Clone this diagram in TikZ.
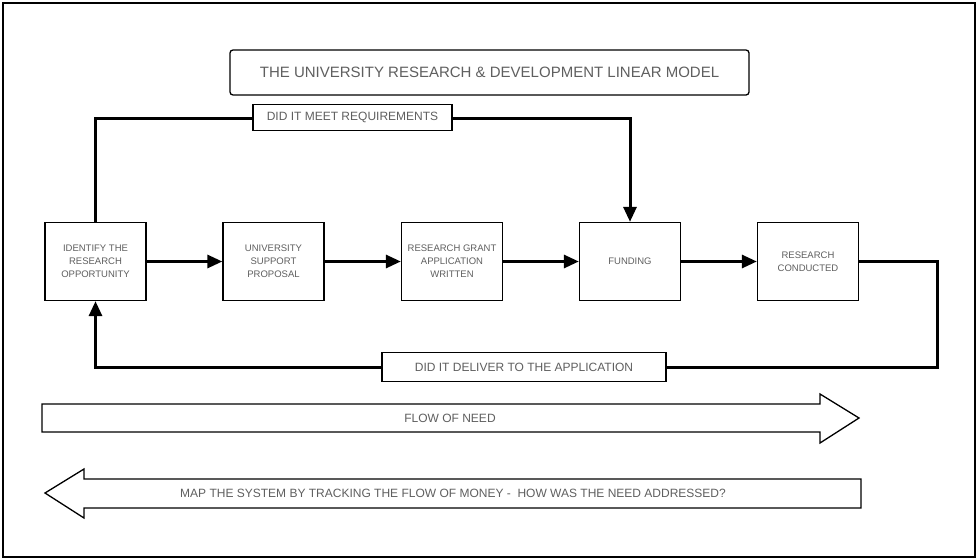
\documentclass[tikz,border=0pt]{standalone}
\usepackage{fontspec}
\setmainfont{Liberation Sans}
\usetikzlibrary{arrows.meta}
\definecolor{txtgray}{RGB}{95,95,95}
\tikzset{
  procbox/.style={draw=black, line width=1.3pt, fill=white, minimum width=101pt, minimum height=78pt, align=center, text=txtgray, font=\fontsize{9.5}{13}\selectfont, inner sep=0pt},
  labbox/.style={draw=black, line width=1.3pt, fill=white, text=txtgray, font=\fontsize{12}{14}\selectfont, inner sep=0pt},
  conn/.style={line width=3pt, line join=miter},
  arr/.style={conn, -{Triangle[length=15pt,width=13pt]}},
  bigarrow/.style={draw=black, line width=1.3pt, fill=white, line join=miter}
}
\begin{document}
\begin{tikzpicture}[x=1pt,y=-1pt]
\useasboundingbox (0,0) rectangle (978,560);
\draw[line width=1.5pt] (3,3) rectangle (975,557);
% title
\node[labbox, rounded corners=3pt, minimum width=519pt, minimum height=45pt, font=\fontsize{15}{17}\selectfont] (title) at (489.5,72.5) {THE UNIVERSITY RESEARCH \& DEVELOPMENT LINEAR MODEL};
% process boxes
\node[procbox] (b1) at (95.5,261.5) {IDENTIFY THE\\RESEARCH\\OPPORTUNITY};
\node[procbox] (b2) at (273.5,261.5) {UNIVERSITY\\SUPPORT\\PROPOSAL};
\node[procbox] (b3) at (452,261.5) {RESEARCH GRANT\\APPLICATION\\WRITTEN};
\node[procbox] (b4) at (630,261.5) {FUNDING};
\node[procbox] (b5) at (808,261.5) {RESEARCH\\CONDUCTED};
% forward arrows
\draw[arr] (b1.east) -- (b2.west);
\draw[arr] (b2.east) -- (b3.west);
\draw[arr] (b3.east) -- (b4.west);
\draw[arr] (b4.east) -- (b5.west);
% top feedback
\coordinate (tl) at (95.5,118);
\coordinate (tr) at (630,118);
\draw[arr] (b1.north) -- (tl) -- (tr) -- (b4.north);
\node[labbox, minimum width=199pt, minimum height=26pt] (meet) at (352.5,117.5) {DID IT MEET REQUIREMENTS};
% bottom feedback
\coordinate (rr) at (937,261.5);
\coordinate (br) at (937,367);
\coordinate (bl) at (95.5,367);
\draw[arr] (b5.east) -- (rr) -- (br) -- (bl) -- (b1.south);
\node[labbox, minimum width=284pt, minimum height=29pt] (deliver) at (524,367) {DID IT DELIVER TO THE APPLICATION};
% flow of need arrow
\draw[bigarrow] (42,404) -- (820,404) -- (820,394) -- (859,418) -- (820,443) -- (820,432) -- (42,432) -- cycle;
\node[text=txtgray, font=\fontsize{12}{14}\selectfont] (need) at (450,418) {FLOW OF NEED};
% flow of money arrow
\draw[bigarrow] (45,493) -- (84,469) -- (84,479) -- (861,479) -- (861,508) -- (84,508) -- (84,518) -- cycle;
\node[text=txtgray, font=\fontsize{12}{14}\selectfont] (money) at (453,493.5) {MAP THE SYSTEM BY TRACKING THE FLOW OF MONEY -\ \ HOW WAS THE NEED ADDRESSED?};
\end{tikzpicture}
\end{document}
